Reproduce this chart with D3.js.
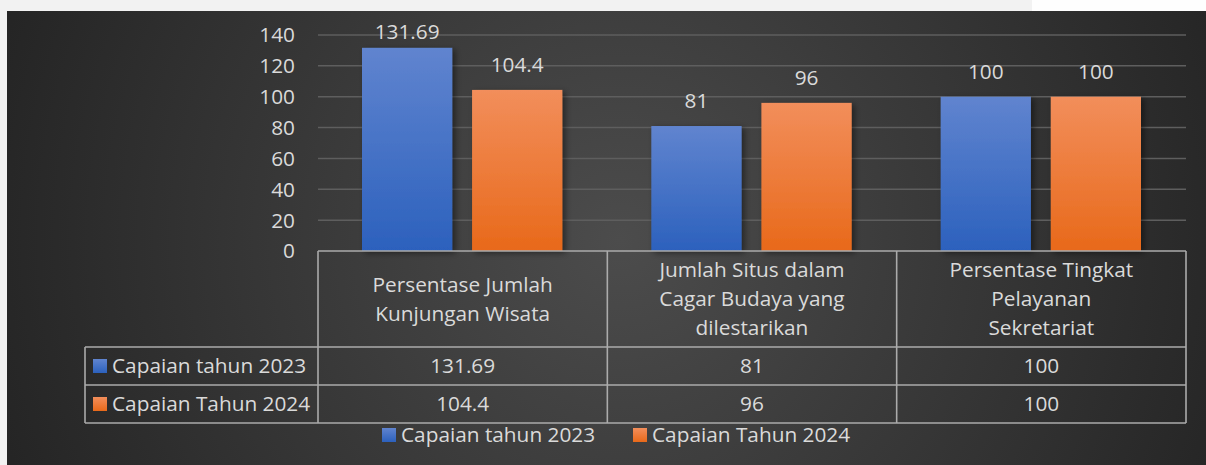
<!DOCTYPE html>
<html>
<head>
<meta charset="utf-8">
<script src="https://cdn.jsdelivr.net/npm/d3@7/dist/d3.min.js"></script>
<style>
    html, body { margin: 0; padding: 0; background: #f4f4f4; }
    svg { display: block; }
    text { font-family: "Open Sans", "Noto Sans", sans-serif; fill: #dadada; }
</style>
</head>
<body>
<div id="chart"></div>
<script>
    // 数据
    const categories = [
        ['Persentase Jumlah', 'Kunjungan Wisata'],
        ['Jumlah Situs dalam', 'Cagar Budaya yang', 'dilestarikan'],
        ['Persentase Tingkat', 'Pelayanan', 'Sekretariat']
    ];
    const seriesNames = ['Capaian tahun 2023', 'Capaian Tahun 2024'];
    const values2023 = [131.69, 81, 100];
    const values2024 = [104.4, 96, 100];
    const yTicks = [0, 20, 40, 60, 80, 100, 120, 140];

    const W = 1206, H = 465;
    const plot = { left: 318, right: 1186, top: 35, bottom: 251 };
    const headerH = 96, rowH = 38, keyLeft = 85;
    const fontSize = 20.8;

    const svg = d3.select('#chart').append('svg')
        .attr('width', W).attr('height', H);

    const defs = svg.append('defs');

    // 背景渐变
    const bg = defs.append('radialGradient')
        .attr('id', 'bg')
        .attr('gradientUnits', 'userSpaceOnUse')
        .attr('cx', 620).attr('cy', 240).attr('r', 680);
    bg.append('stop').attr('offset', '0%').attr('stop-color', '#4c4c4c');
    bg.append('stop').attr('offset', '100%').attr('stop-color', '#232323');

    // 柱子渐变
    const gradColors = [['#6084cf', '#2c61bd'], ['#f28e5b', '#e8691a']];
    gradColors.forEach((c, i) => {
        const g = defs.append('linearGradient')
            .attr('id', 'bar' + i)
            .attr('x1', 0).attr('y1', 0).attr('x2', 0).attr('y2', 1);
        g.append('stop').attr('offset', '0%').attr('stop-color', c[0]);
        g.append('stop').attr('offset', '100%').attr('stop-color', c[1]);
    });

    const shadow = defs.append('filter').attr('id', 'shadow')
        .attr('x', '-20%').attr('y', '-20%').attr('width', '150%').attr('height', '150%');
    shadow.append('feDropShadow')
        .attr('dx', 3).attr('dy', 2).attr('stdDeviation', 3)
        .attr('flood-color', '#000').attr('flood-opacity', 0.45);

    // 页面白边 + 深色区域
    svg.append('rect').attr('x', 0).attr('y', 0).attr('width', W).attr('height', H).attr('fill', '#f2f2f2');
    svg.append('rect').attr('x', 1032).attr('y', 0).attr('width', W - 1032).attr('height', 11).attr('fill', '#fefefe');
    svg.append('rect').attr('x', 7).attr('y', 11).attr('width', W - 7).attr('height', H - 11).attr('fill', 'url(#bg)');

    // 比例尺
    const x0 = d3.scaleBand()
        .domain(d3.range(categories.length))
        .range([plot.left, plot.right]);

    const x1 = d3.scaleBand()
        .domain([0, 1])
        .range([44, x0.bandwidth() - 45])
        .paddingInner(0.18);

    const y = d3.scaleLinear()
        .domain([0, 140])
        .range([plot.bottom, plot.top]);

    // 网格线
    svg.append('g').selectAll('line')
        .data(yTicks.filter(d => d > 0))
        .join('line')
        .attr('x1', plot.left).attr('x2', plot.right)
        .attr('y1', d => y(d)).attr('y2', d => y(d))
        .attr('stroke', '#5e5e5e').attr('stroke-width', 1.5);

    // Y 轴标签
    svg.append('g').selectAll('text')
        .data(yTicks)
        .join('text')
        .attr('x', 295).attr('y', d => y(d))
        .attr('dy', '0.36em')
        .attr('text-anchor', 'end')
        .style('font-size', fontSize + 'px')
        .text(d => d);

    // 柱子
    const series = [values2023, values2024];
    const groups = svg.append('g').selectAll('g')
        .data(series)
        .join('g');

    groups.selectAll('rect')
        .data((vals, si) => vals.map((v, ci) => ({ v, ci, si })))
        .join('rect')
        .attr('x', d => x0(d.ci) + x1(d.si))
        .attr('width', x1.bandwidth())
        .attr('y', d => y(d.v))
        .attr('height', d => y(0) - y(d.v))
        .attr('fill', d => `url(#bar${d.si})`)
        .attr('filter', 'url(#shadow)');

    // 数据标签
    groups.selectAll('text')
        .data((vals, si) => vals.map((v, ci) => ({ v, ci, si })))
        .join('text')
        .attr('x', d => x0(d.ci) + x1(d.si) + x1.bandwidth() / 2)
        .attr('y', d => Math.max(y(d.v) - 18, 39))
        .attr('text-anchor', 'middle')
        .style('font-size', fontSize + 'px')
        .text(d => d.v);

    // 数据表
    const tTop = plot.bottom;
    const r1 = tTop + headerH, r2 = r1 + rowH, r3 = r2 + rowH;
    const lineColor = '#ababab';
    const table = svg.append('g')
        .attr('stroke', lineColor).attr('stroke-width', 1.6).attr('fill', 'none');

    table.append('line').attr('x1', plot.left).attr('x2', plot.right).attr('y1', tTop).attr('y2', tTop);
    [r1, r2, r3].forEach(yy => {
        table.append('line').attr('x1', keyLeft).attr('x2', plot.right).attr('y1', yy).attr('y2', yy);
    });
    table.append('line').attr('x1', keyLeft).attr('x2', keyLeft).attr('y1', r1).attr('y2', r3);
    const colEdges = x0.domain().map(d => x0(d)).concat([plot.right]);
    colEdges.forEach(xx => {
        table.append('line').attr('x1', xx).attr('x2', xx).attr('y1', tTop).attr('y2', r3);
    });

    // 表头文字
    const headerMid = tTop + headerH / 2;
    const lineH = 29;
    categories.forEach((lines, ci) => {
        const t = svg.append('text')
            .attr('text-anchor', 'middle')
            .style('font-size', fontSize + 'px');
        lines.forEach((ln, li) => {
            t.append('tspan')
                .attr('x', x0(ci) + x0.bandwidth() / 2)
                .attr('y', headerMid + (li - (lines.length - 1) / 2) * lineH)
                .attr('dy', '0.36em')
                .text(ln);
        });
    });

    // 表格行
    const rowTops = [r1, r2];
    series.forEach((vals, si) => {
        const cy = rowTops[si] + rowH / 2;
        svg.append('rect')
            .attr('x', 93).attr('y', cy - 7)
            .attr('width', 14).attr('height', 14)
            .attr('fill', `url(#bar${si})`);
        svg.append('text')
            .attr('x', 112).attr('y', cy).attr('dy', '0.36em')
            .style('font-size', fontSize + 'px')
            .text(seriesNames[si]);
        vals.forEach((v, ci) => {
            svg.append('text')
                .attr('x', x0(ci) + x0.bandwidth() / 2)
                .attr('y', cy).attr('dy', '0.36em')
                .attr('text-anchor', 'middle')
                .style('font-size', fontSize + 'px')
                .text(v);
        });
    });

    // 底部图例
    const legendX = [382, 633];
    const legendY = 435;
    seriesNames.forEach((name, i) => {
        svg.append('rect')
            .attr('x', legendX[i]).attr('y', legendY - 7)
            .attr('width', 14).attr('height', 14)
            .attr('fill', `url(#bar${i})`);
        svg.append('text')
            .attr('x', legendX[i] + 19).attr('y', legendY).attr('dy', '0.36em')
            .style('font-size', fontSize + 'px')
            .text(name);
    });
</script>
</body>
</html>
